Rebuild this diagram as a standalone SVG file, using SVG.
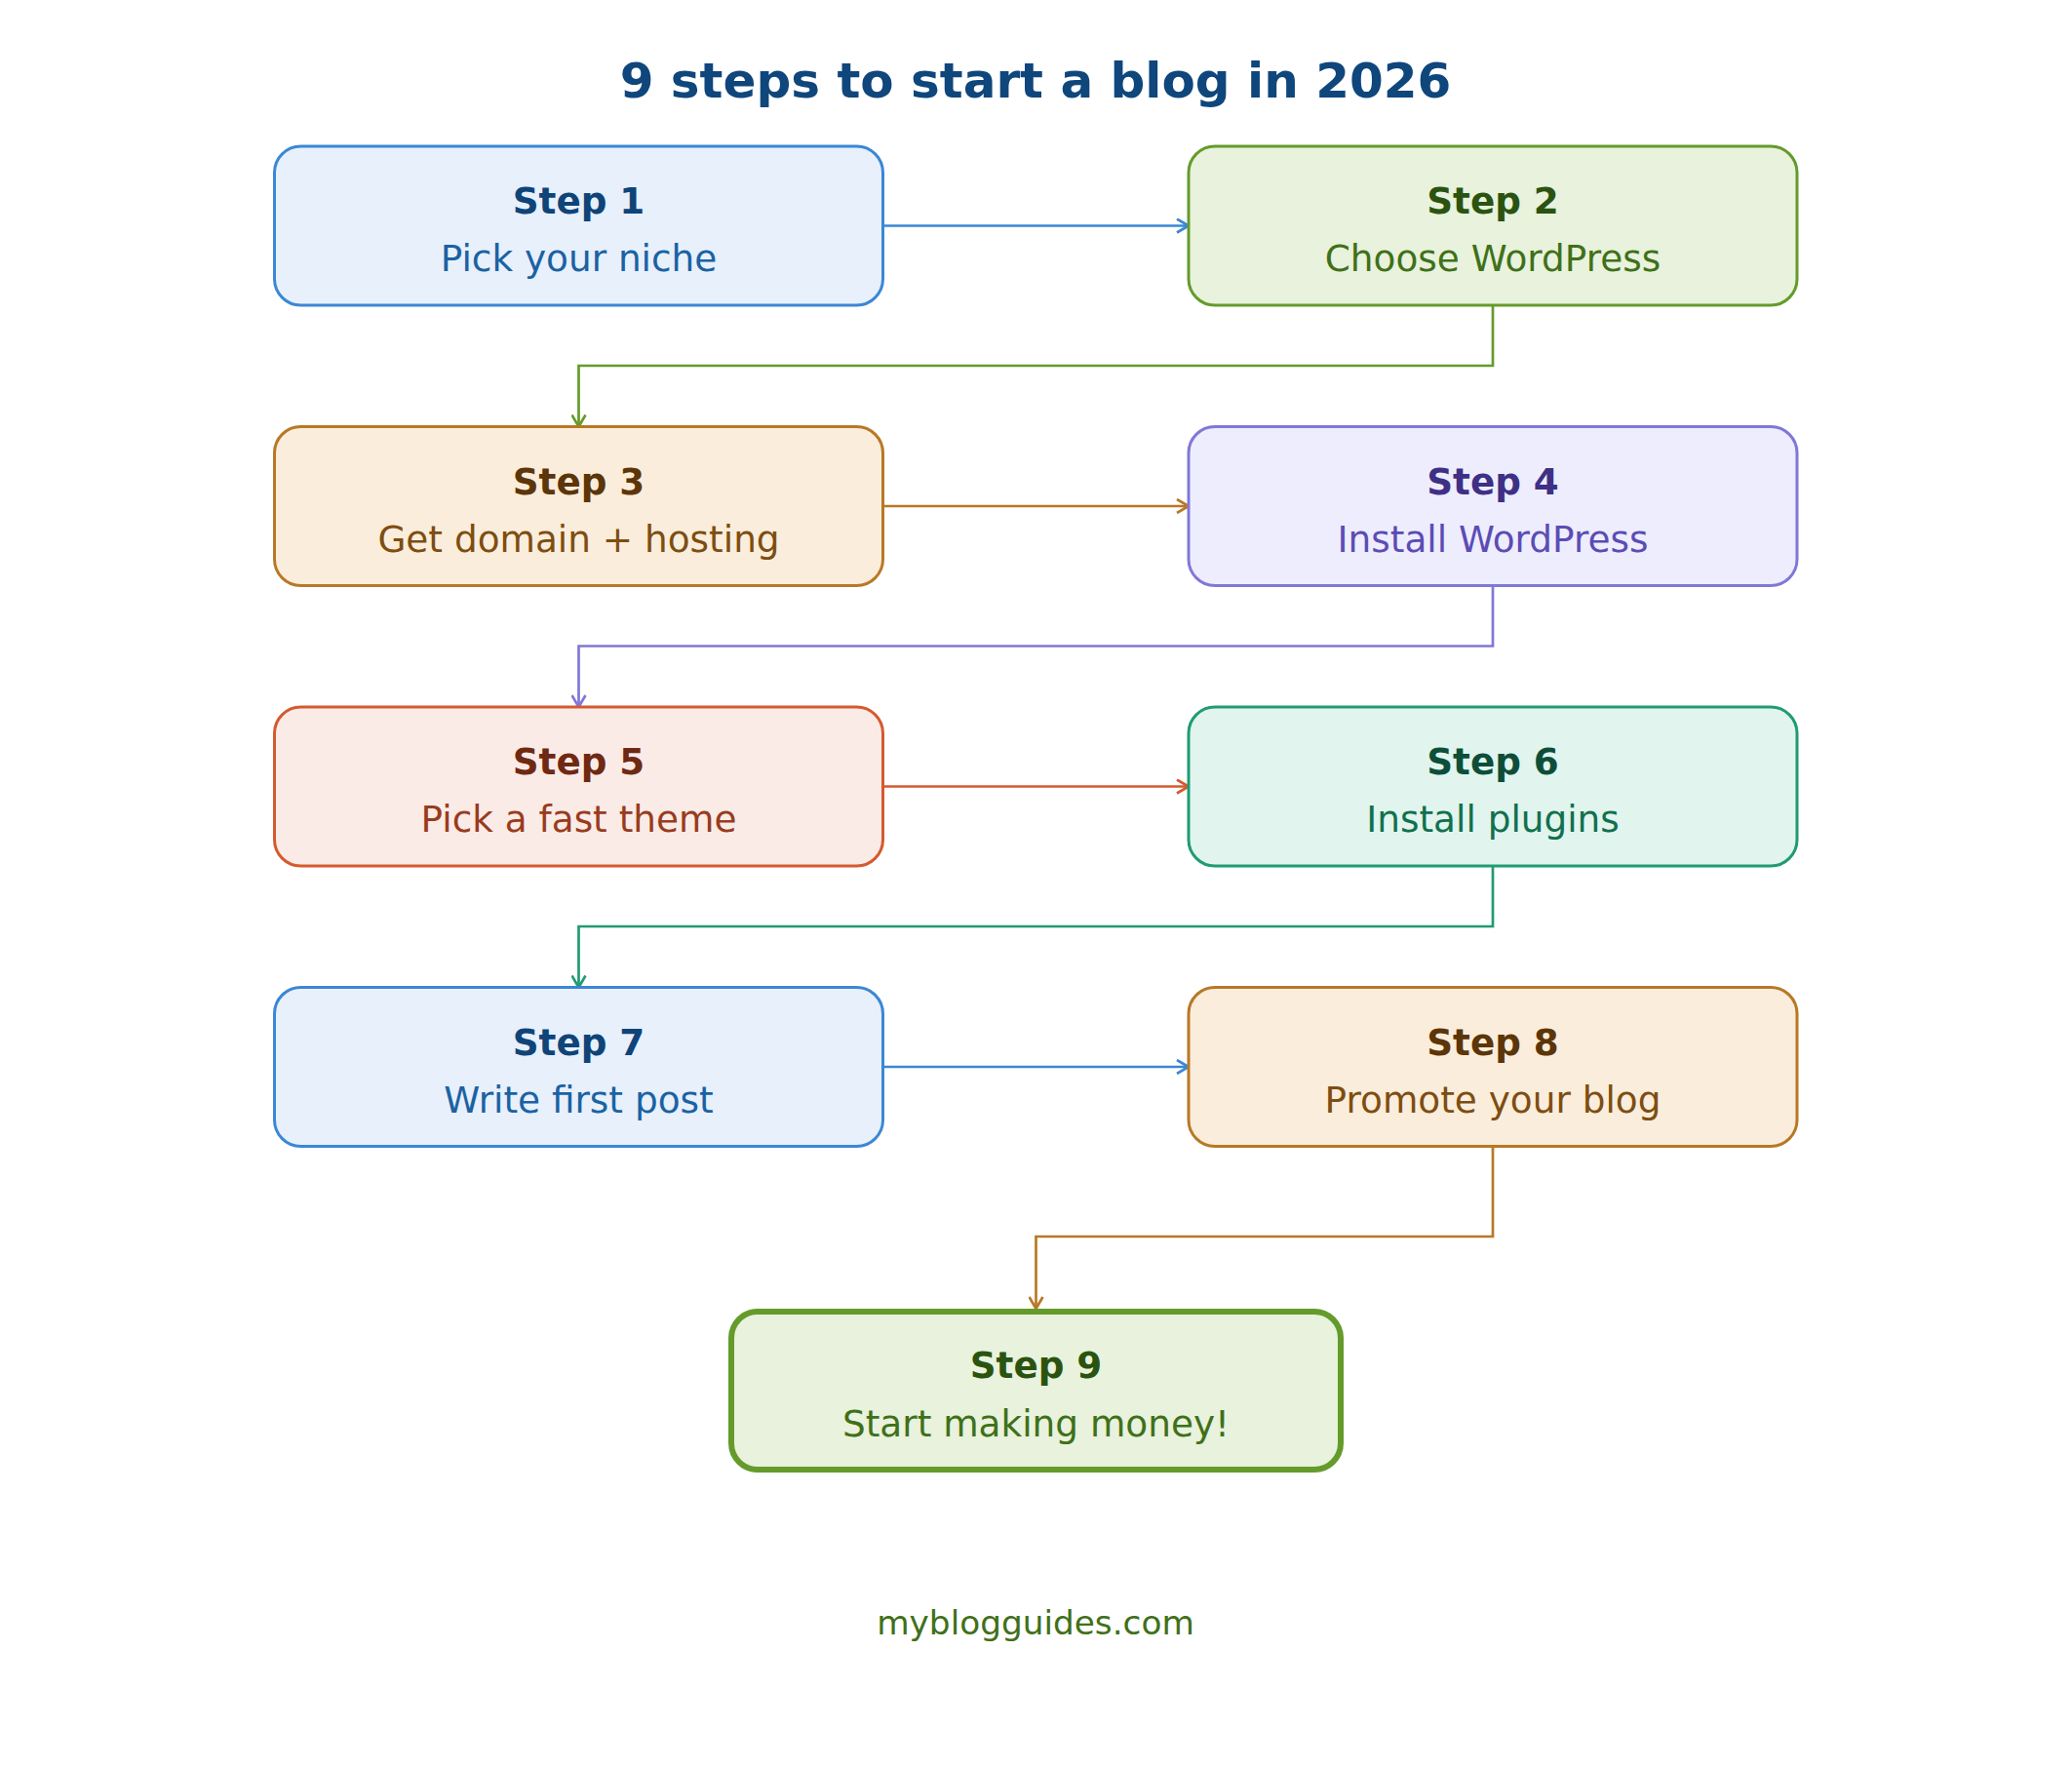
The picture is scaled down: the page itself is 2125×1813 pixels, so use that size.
<svg xmlns="http://www.w3.org/2000/svg" width="2125" height="1813" viewBox="0 0 2125 1813">
<style>
text{font-family:"DejaVu Sans","Liberation Sans",sans-serif;text-anchor:middle}
.t{font-size:50px;font-weight:bold;fill:#0f467c}
.h{font-size:37.3px;font-weight:bold}
.s{font-size:37.4px}
.box{stroke-width:3}
.c{fill:none;stroke-width:2.7}
.blue rect{fill:#e7f0fb;stroke:#3b87d5}.blue .h{fill:#0f4478}.blue .s{fill:#1a62a3}
.green rect{fill:#e8f2dc;stroke:#649b2b}.green .h{fill:#2b5310}.green .s{fill:#3f7019}
.orange rect{fill:#fbeddb;stroke:#b87826}.orange .h{fill:#5c3508}.orange .s{fill:#7d4d11}
.purple rect{fill:#eeedfd;stroke:#8078d7}.purple .h{fill:#3e3085}.purple .s{fill:#5b4cb5}
.red rect{fill:#fbebe7;stroke:#d45a30}.red .h{fill:#6f2913}.red .s{fill:#983c1d}
.teal rect{fill:#e1f5ee;stroke:#209b73}.teal .h{fill:#0e4e39}.teal .s{fill:#11704f}
.foot{font-size:34.3px;fill:#3f7019}
</style>
<defs>
<marker id="aB" viewBox="0 0 14 16" refX="13" refY="8" markerWidth="14" markerHeight="16" markerUnits="userSpaceOnUse" orient="auto"><path d="M1,1 L13,8 L1,15" fill="none" stroke="#3b87d5" stroke-width="2.7"/></marker>
<marker id="aG" viewBox="0 0 14 16" refX="13" refY="8" markerWidth="14" markerHeight="16" markerUnits="userSpaceOnUse" orient="auto"><path d="M1,1 L13,8 L1,15" fill="none" stroke="#649b2b" stroke-width="2.7"/></marker>
<marker id="aO" viewBox="0 0 14 16" refX="13" refY="8" markerWidth="14" markerHeight="16" markerUnits="userSpaceOnUse" orient="auto"><path d="M1,1 L13,8 L1,15" fill="none" stroke="#b87826" stroke-width="2.7"/></marker>
<marker id="aP" viewBox="0 0 14 16" refX="13" refY="8" markerWidth="14" markerHeight="16" markerUnits="userSpaceOnUse" orient="auto"><path d="M1,1 L13,8 L1,15" fill="none" stroke="#8078d7" stroke-width="2.7"/></marker>
<marker id="aR" viewBox="0 0 14 16" refX="13" refY="8" markerWidth="14" markerHeight="16" markerUnits="userSpaceOnUse" orient="auto"><path d="M1,1 L13,8 L1,15" fill="none" stroke="#d45a30" stroke-width="2.7"/></marker>
<marker id="aT" viewBox="0 0 14 16" refX="13" refY="8" markerWidth="14" markerHeight="16" markerUnits="userSpaceOnUse" orient="auto"><path d="M1,1 L13,8 L1,15" fill="none" stroke="#209b73" stroke-width="2.7"/></marker>
</defs>
<rect width="2125" height="1813" fill="#ffffff"/>
<text class="t" x="1062" y="99.5">9 steps to start a blog in 2026</text>

<g id="connectors">
<path class="c" stroke="#3b87d5" d="M905.5,231.5 H1219" marker-end="url(#aB)"/>
<path class="c" stroke="#649b2b" d="M1531,313 V375 H593.5 V437.5" marker-end="url(#aG)"/>
<path class="c" stroke="#b87826" d="M905.5,519 H1219" marker-end="url(#aO)"/>
<path class="c" stroke="#8078d7" d="M1531,600.5 V662.5 H593.5 V725" marker-end="url(#aP)"/>
<path class="c" stroke="#d45a30" d="M905.5,806.5 H1219" marker-end="url(#aR)"/>
<path class="c" stroke="#209b73" d="M1531,888 V950 H593.5 V1012.5" marker-end="url(#aT)"/>
<path class="c" stroke="#3b87d5" d="M905.5,1094 H1219" marker-end="url(#aB)"/>
<path class="c" stroke="#b87826" d="M1531,1175.5 V1268 H1062.5 V1342" marker-end="url(#aO)"/>
</g>

<g id="step1" class="blue"><rect class="box" x="281.5" y="150" width="624" height="163" rx="27"/><text class="h" x="593.5" y="219">Step 1</text><text class="s" x="593.5" y="278">Pick your niche</text></g>
<g id="step2" class="green"><rect class="box" x="1219" y="150" width="624" height="163" rx="27"/><text class="h" x="1531" y="219">Step 2</text><text class="s" x="1531" y="278">Choose WordPress</text></g>
<g id="step3" class="orange"><rect class="box" x="281.5" y="437.5" width="624" height="163" rx="27"/><text class="h" x="593.5" y="506.5">Step 3</text><text class="s" x="593.5" y="565.5">Get domain + hosting</text></g>
<g id="step4" class="purple"><rect class="box" x="1219" y="437.5" width="624" height="163" rx="27"/><text class="h" x="1531" y="506.5">Step 4</text><text class="s" x="1531" y="565.5">Install WordPress</text></g>
<g id="step5" class="red"><rect class="box" x="281.5" y="725" width="624" height="163" rx="27"/><text class="h" x="593.5" y="794">Step 5</text><text class="s" x="593.5" y="853">Pick a fast theme</text></g>
<g id="step6" class="teal"><rect class="box" x="1219" y="725" width="624" height="163" rx="27"/><text class="h" x="1531" y="794">Step 6</text><text class="s" x="1531" y="853">Install plugins</text></g>
<g id="step7" class="blue"><rect class="box" x="281.5" y="1012.5" width="624" height="163" rx="27"/><text class="h" x="593.5" y="1081.5">Step 7</text><text class="s" x="593.5" y="1140.5">Write first post</text></g>
<g id="step8" class="orange"><rect class="box" x="1219" y="1012.5" width="624" height="163" rx="27"/><text class="h" x="1531" y="1081.5">Step 8</text><text class="s" x="1531" y="1140.5">Promote your blog</text></g>
<g id="step9" class="green"><rect x="750" y="1345" width="625" height="162" rx="27" stroke-width="6"/><text class="h" x="1062.5" y="1412.5">Step 9</text><text class="s" x="1062.5" y="1472.5">Start making money!</text></g>

<text class="foot" x="1062" y="1675.5">myblogguides.com</text>
</svg>
